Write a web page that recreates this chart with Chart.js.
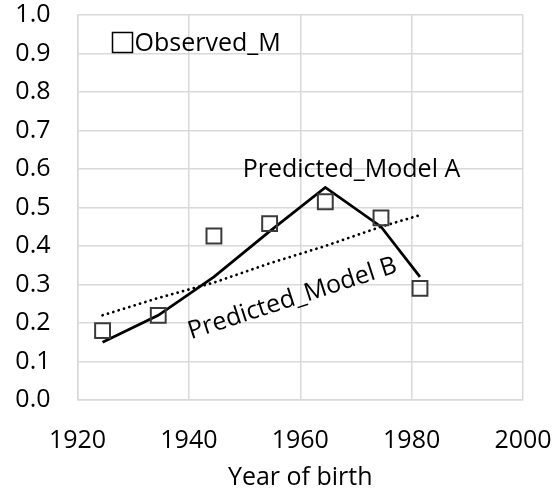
<!DOCTYPE html>
<html>
<head>
<meta charset="utf-8">
<script src="https://cdn.jsdelivr.net/npm/chart.js@4"></script>
<style>
  html, body { margin: 0; padding: 0; background: #fff; }
  #wrap { width: 552px; height: 493px; }
</style>
</head>
<body>
<div id="wrap"><canvas id="chart"></canvas></div>
<script>
// ===== DATA =====
const years = [1924.5, 1934.5, 1944.5, 1954.5, 1964.5, 1974.5, 1981.5];
const observed = [0.18, 0.22, 0.426, 0.458, 0.515, 0.473, 0.29];
const modelA = [0.15, 0.22, 0.32, 0.438, 0.552, 0.45, 0.32];
const modelB = [0.22, 0.265, 0.305, 0.355, 0.40, 0.45, 0.48];
const xTicks = [1920, 1940, 1960, 1980, 2000];
const yTicks = [0.0, 0.1, 0.2, 0.3, 0.4, 0.5, 0.6, 0.7, 0.8, 0.9, 1.0];

const FONT = "'Open Sans'";
const FSIZE = 25;
const toPoints = vals => vals.map((v, i) => ({ x: years[i], y: v }));

// ===== LABELS DRAWN ON THE PLOT =====
const labelPlugin = {
  id: "labels",
  afterDatasetsDraw(chart) {
    const { ctx, chartArea, scales } = chart;
    ctx.save();
    ctx.fillStyle = "#000";
    ctx.font = FSIZE + "px " + FONT;
    ctx.textBaseline = "middle";

    // legend (only the observed series)
    const lx = chartArea.left + 45, ly = chartArea.top + 27.5;
    ctx.strokeStyle = "#000";
    ctx.lineWidth = 1.5;
    ctx.strokeRect(lx - 10, ly - 10, 20, 20);
    ctx.textAlign = "left";
    ctx.fillText(chart.data.datasets[0].label, lx + 12, ly + 1);

    // Model A label
    ctx.textAlign = "center";
    ctx.fillText(chart.data.datasets[1].label, scales.x.getPixelForValue(1969.2), scales.y.getPixelForValue(0.598));

    // Model B label, along its line
    ctx.translate(scales.x.getPixelForValue(1958.6), scales.y.getPixelForValue(0.263));
    ctx.rotate(-18 * Math.PI / 180);
    ctx.fillText(chart.data.datasets[2].label, 0, 0);
    ctx.restore();
  }
};

// ===== CHART =====
new Chart(document.getElementById("chart"), {
  type: "line",
  data: {
    datasets: [
      {
        label: "Observed_M",
        data: toPoints(observed),
        showLine: false,
        pointStyle: "rect",
        pointRadius: 10.5,
        pointBorderWidth: 2,
        pointBorderColor: "#3a3a3a",
        pointBackgroundColor: "rgba(0,0,0,0)",
        order: 0
      },
      {
        label: "Predicted_Model A",
        data: toPoints(modelA),
        borderColor: "#000",
        borderWidth: 2.75,
        pointRadius: 0,
        tension: 0,
        order: 1
      },
      {
        label: "Predicted_Model B",
        data: toPoints(modelB),
        borderColor: "#000",
        borderWidth: 2.75,
        borderDash: [0.1, 5.5],
        borderCapStyle: "round",
        pointRadius: 0,
        order: 2
      }
    ]
  },
  options: {
    responsive: true,
    maintainAspectRatio: false,
    animation: false,
    layout: { padding: { top: 15, right: 29, bottom: 0, left: 0 } },
    plugins: { legend: { display: false }, tooltip: { enabled: false } },
    scales: {
      x: {
        type: "linear",
        min: 1920,
        max: 2000,
        afterBuildTicks: s => { s.ticks = xTicks.map(v => ({ value: v })); },
        afterFit: s => { s.height = 93; s.paddingLeft = 0; s.paddingRight = 0; },
        ticks: { color: "#000", font: { family: FONT, size: FSIZE }, padding: 26, maxRotation: 0, callback: v => String(v) },
        grid: { color: "#d9d9d9", lineWidth: 1.5, drawTicks: false },
        border: { color: "#d9d9d9", width: 1.5 },
        title: { display: true, text: "Year of birth", color: "#000", font: { family: FONT, size: FSIZE }, padding: { top: 0, bottom: 0 } }
      },
      y: {
        min: 0,
        max: 1,
        afterBuildTicks: s => { s.ticks = yTicks.map(v => ({ value: v })); },
        afterFit: s => { s.width = 77.5; s.paddingTop = 0; s.paddingBottom = 0; },
        ticks: { color: "#000", font: { family: FONT, size: FSIZE }, padding: 27, callback: v => v.toFixed(1) },
        grid: { color: "#d9d9d9", lineWidth: 1.5, drawTicks: false },
        border: { color: "#d9d9d9", width: 1.5 }
      }
    }
  },
  plugins: [labelPlugin]
});
</script>
</body>
</html>
